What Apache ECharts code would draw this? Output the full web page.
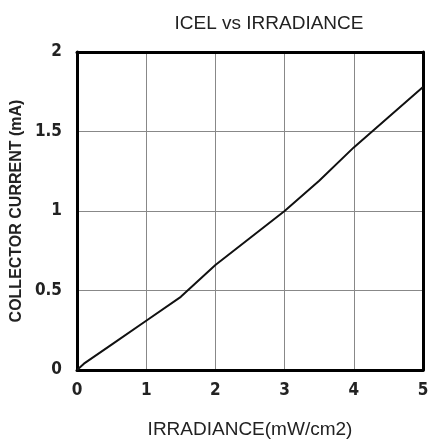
<!DOCTYPE html>
<html><head><meta charset="utf-8">
<script src="https://cdn.jsdelivr.net/npm/echarts@6/dist/echarts.min.js"></script>
<style>html,body{margin:0;padding:0;background:#fff}#c{width:433px;height:442px}</style>
</head><body><div id="c"></div>
<script>
var irradiance = [0, 0.1, 0.5, 1, 1.5, 2, 2.5, 3, 3.5, 4, 4.5, 5];
var current    = [0, 0.04, 0.16, 0.31, 0.46, 0.66, 0.83, 1.0, 1.19, 1.40, 1.59, 1.78];
var xTicks = [0, 1, 2, 3, 4, 5];
var yTicks = [0, 0.5, 1, 1.5, 2];
var titleText = 'ICEL vs IRRADIANCE';
var xName = 'IRRADIANCE(mW/cm2)';
var yName = 'COLLECTOR CURRENT (mA)';

var cond = "'DejaVu Sans Condensed', 'Liberation Sans', Arial, sans-serif";
var sans = "'Liberation Sans', Arial, sans-serif";
var chart = echarts.init(document.getElementById('c'));
var border = { show: true, onZero: false, lineStyle: { color: '#000', width: 3 } };
chart.setOption({
  animation: false,
  title: { text: titleText, left: 264, top: 9, textAlign: 'center',
    textStyle: { fontFamily: sans, fontSize: 19, fontWeight: 'normal', color: '#222' } },
  grid: { left: 77, right: 10, top: 52, bottom: 72, containLabel: false, outerBoundsMode: 'none' },
  xAxis: [{ type: 'value', min: xTicks[0], max: xTicks[xTicks.length-1], interval: 1,
    name: xName, nameLocation: 'middle', nameGap: 50, nameMoveOverlap: false,
    nameTextStyle: { fontFamily: sans, fontSize: 19, color: '#222' },
    axisLine: border, axisTick: { show: false },
    axisLabel: { fontFamily: cond, fontSize: 17, fontWeight: 'bold', color: '#222', margin: 12, hideOverlap: false },
    splitLine: { show: true, lineStyle: { color: '#888', width: 1 } } },
   { type: 'value', position: 'top', min: 0, max: 5, axisLine: border, axisTick: { show: false },
     axisLabel: { show: false }, splitLine: { show: false } }],
  yAxis: [{ type: 'value', min: yTicks[0], max: yTicks[yTicks.length-1], interval: 0.5,
    name: yName, nameLocation: 'middle', nameGap: 52, nameRotate: 90, nameMoveOverlap: false,
    nameTextStyle: { fontFamily: sans, fontSize: 16, fontWeight: 'bold', color: '#222' },
    axisLine: border, axisTick: { show: false },
    axisLabel: { fontFamily: cond, fontSize: 17, fontWeight: 'bold', color: '#222', margin: 15, rotate: 0, hideOverlap: false },
    splitLine: { show: true, lineStyle: { color: '#888', width: 1 } } },
   { type: 'value', position: 'right', min: 0, max: 2, axisLine: border, axisTick: { show: false },
     axisLabel: { show: false }, splitLine: { show: false } }],
  series: [{ type: 'line', data: irradiance.map(function(x,i){return [x,current[i]];}),
    showSymbol: false, lineStyle: { color: '#111', width: 2 } }]
});
</script></body></html>
